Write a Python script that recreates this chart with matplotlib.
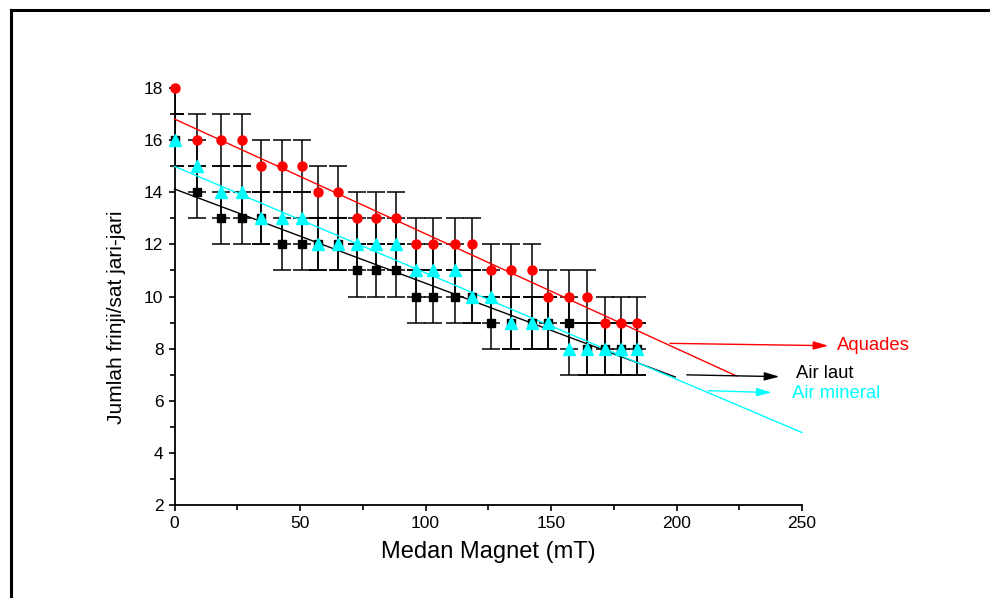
import matplotlib
matplotlib.use("Agg")
import matplotlib.pyplot as plt
import numpy as np
from matplotlib.lines import Line2D

plt.rcParams['font.family'] = ['Liberation Sans', 'DejaVu Sans']

# ---- data ----
medan = [0, 8.8, 18.4, 26.8, 34.5, 42.7, 50.7, 57.3, 65.0, 72.6, 80.2, 88.4, 96.1,
         103.1, 111.6, 118.7, 126.1, 134.2, 142.4, 148.9, 157.1, 164.2, 171.5, 177.9, 184.1]
aquades = [18, 16, 16, 16, 15, 15, 15, 14, 14, 13, 13, 13, 12, 12, 12, 12, 11, 11, 11, 10, 10, 10, 9, 9, 9]
air_laut = [16, 14, 13, 13, 13, 12, 12, 12, 12, 11, 11, 11, 10, 10, 10, 10, 9, 9, 9, 9, 9, 8, 8, 8, 8]
air_mineral = [16, 15, 14, 14, 13, 13, 13, 12, 12, 12, 12, 12, 11, 11, 11, 10, 10, 9, 9, 9, 8, 8, 8, 8, 8]
err = 1

# linear fit lines (intercept, slope, x end)
fit_aquades = (16.82, -0.0441, 224)
fit_laut = (14.13, -0.0362, 199.5)
fit_mineral = (15.0, -0.0409, 250)

# annotation arrows: (start x, start y, tip x, tip y, text x, text y)
ann_aquades = (197.4, 8.20, 260.5, 8.11, 263.8, 8.13)
ann_laut = (204.1, 6.99, 241.0, 6.92, 247.6, 7.05)
ann_mineral = (212.7, 6.38, 237.9, 6.31, 246.1, 6.27)

fig = plt.figure(figsize=(9.9, 5.98), dpi=100)
ax = fig.add_axes([0.1763, 0.156, 0.8101 - 0.1763, 0.8523 - 0.156])

# error bars
for yv in (aquades, air_mineral, air_laut):
    ax.errorbar(medan, yv, yerr=err, fmt='none', ecolor='black', elinewidth=1.1,
                capsize=6.5, capthick=1.1, zorder=2)

# fit lines
for (b, m, xe), col in ((fit_aquades, '#FF0000'), (fit_laut, 'black'), (fit_mineral, '#00FFFF')):
    xs = np.array([0, xe])
    ax.plot(xs, b + m * xs, color=col, lw=1.0, zorder=3, clip_on=False)

# markers
ax.plot(medan, air_laut, 's', color='black', ms=6, zorder=4, clip_on=False)
ax.plot(medan, aquades, 'o', color='#FF0000', ms=6.5, zorder=5, clip_on=False)
ax.plot(medan, air_mineral, '^', color='#00FFFF', ms=8, zorder=6, clip_on=False)

# annotations
for (x0, y0, x1, y1, tx, ty), col, label in ((ann_aquades, '#FF0000', 'Aquades'),
                                            (ann_laut, 'black', 'Air laut'),
                                            (ann_mineral, '#00FFFF', 'Air mineral')):
    ax.annotate('', xy=(x1, y1), xytext=(x0, y0), annotation_clip=False,
                arrowprops=dict(arrowstyle='-|>,head_length=0.9,head_width=0.25',
                                color=col, lw=1.0, shrinkA=0, shrinkB=0))
    ax.text(tx, ty, label, color=col, fontsize=13.3, ha='left', va='center')

ax.set_xlim(0, 250)
ax.set_ylim(2, 18)
ax.set_xticks([0, 50, 100, 150, 200, 250])
ax.set_xticks([25, 75, 125, 175, 225], minor=True)
ax.set_yticks([2, 4, 6, 8, 10, 12, 14, 16, 18])
ax.set_yticks([3, 5, 7, 9, 11, 13, 15, 17], minor=True)
ax.tick_params(which='both', direction='out', width=1.2, labelsize=12.5, colors='black')
ax.tick_params(which='major', length=4.5)
ax.tick_params(which='minor', length=3.5)
for s in ('top', 'right'):
    ax.spines[s].set_visible(False)
for s in ('left', 'bottom'):
    ax.spines[s].set_linewidth(1.3)

ax.set_xlabel('Medan Magnet (mT)', fontsize=17, labelpad=7)
ax.set_ylabel('Jumlah frinji/sat jari-jari', fontsize=15)
ax.yaxis.set_label_coords(-0.077, 0.45)

# outer frame (top and left edges)
fig.add_artist(Line2D([10.5 / 990, 10.5 / 990], [0, 1 - 9.5 / 598], color='black', lw=2.2,
                      transform=fig.transFigure))
fig.add_artist(Line2D([10.5 / 990, 1], [1 - 9.5 / 598, 1 - 9.5 / 598], color='black', lw=2.2,
                      transform=fig.transFigure))

fig.savefig('out.png', dpi=100)
